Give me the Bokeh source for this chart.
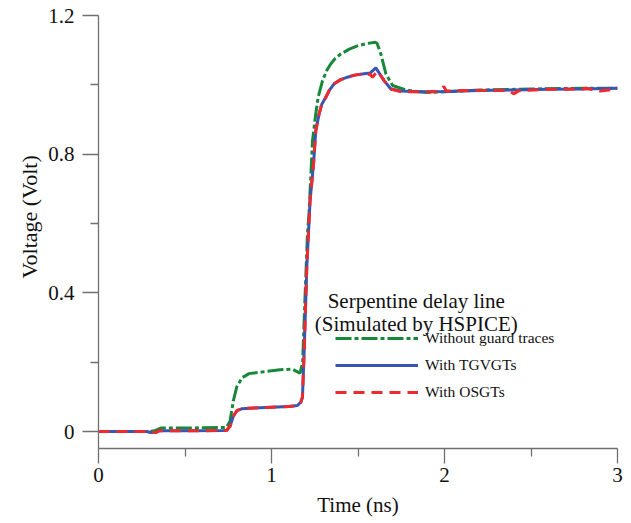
from bokeh.plotting import figure
from bokeh.models import FixedTicker, Legend, LegendItem, Label, Range1d, Title
from bokeh.embed import file_html
from bokeh.resources import INLINE

# ---- data ----
t_green = [0, 0.30, 0.33, 0.36, 0.50, 0.74, 0.76, 0.78, 0.80, 0.83, 0.87, 0.95, 1.05, 1.12,
           1.15, 1.165, 1.18, 1.193, 1.208, 1.217, 1.237, 1.256, 1.27, 1.295, 1.32, 1.343,
           1.37, 1.40, 1.45, 1.50, 1.55, 1.60, 1.61, 1.632, 1.661, 1.70, 1.786, 1.9, 2.0,
           2.2, 2.5, 2.8, 3.0]
v_green = [0, 0, 0.003, 0.010, 0.010, 0.012, 0.03, 0.09, 0.13, 0.155, 0.167, 0.172, 0.178, 0.180,
           0.172, 0.168, 0.20, 0.378, 0.571, 0.63, 0.839, 0.917, 0.965, 1.012, 1.042, 1.061,
           1.077, 1.089, 1.103, 1.113, 1.119, 1.123, 1.12, 1.089, 1.032, 0.998, 0.984, 0.978,
           0.980, 0.985, 0.988, 0.990, 0.990]

t_blue = [0, 0.28, 0.30, 0.33, 0.35, 0.50, 0.74, 0.76, 0.78, 0.80, 0.83, 0.90, 1.0, 1.1, 1.15,
          1.17, 1.179, 1.189, 1.204, 1.223, 1.243, 1.256, 1.275, 1.29, 1.314, 1.335, 1.362,
          1.40, 1.439, 1.48, 1.535, 1.57, 1.603, 1.651, 1.69, 1.747, 1.85, 2.0, 2.2, 2.4,
          2.6, 2.8, 3.0]
v_blue = [0, 0, -0.003, -0.003, 0.002, 0.002, 0.003, 0.015, 0.045, 0.060, 0.066, 0.068, 0.070,
          0.072, 0.075, 0.085, 0.099, 0.234, 0.474, 0.666, 0.772, 0.868, 0.916, 0.943, 0.964,
          0.985, 1.003, 1.015, 1.022, 1.028, 1.032, 1.034, 1.049, 1.012, 0.988, 0.982, 0.980,
          0.981, 0.984, 0.985, 0.987, 0.988, 0.990]

t_red = [0, 0.28, 0.30, 0.33, 0.35, 0.50, 0.74, 0.76, 0.78, 0.80, 0.83, 0.90, 1.0, 1.1, 1.15,
         1.17, 1.179, 1.189, 1.204, 1.223, 1.243, 1.256, 1.275, 1.29, 1.314, 1.335, 1.362,
         1.40, 1.439, 1.48, 1.535, 1.57, 1.584, 1.613, 1.651, 1.69, 1.75, 1.95, 1.975, 1.996,
         2.01, 2.2, 2.37, 2.40, 2.43, 2.6, 2.8, 2.82, 2.9, 2.95, 3.0]
v_red = [0, 0, -0.003, -0.003, 0.002, 0.002, 0.003, 0.015, 0.045, 0.060, 0.066, 0.068, 0.070,
         0.072, 0.075, 0.085, 0.099, 0.234, 0.474, 0.666, 0.772, 0.868, 0.916, 0.943, 0.964,
         0.985, 1.003, 1.015, 1.022, 1.028, 1.032, 1.030, 1.022, 1.040, 1.012, 0.988, 0.980,
         0.980, 0.984, 0.995, 0.982, 0.984, 0.984, 0.974, 0.983, 0.987, 0.988, 0.990, 0.982,
         0.985, 0.990]

x_ticks = [0, 1, 2, 3]
x_minor = [0.5, 1.5, 2.5]
y_ticks = [0, 0.4, 0.8, 1.2]
y_minor = [0.2, 0.6, 1.0]
y_labels = {0: "0", 0.4: "0.4", 0.8: "0.8", 1.2: "1.2"}
series_names = ["Without guard traces", "With TGVGTs", "With OSGTs"]
title_lines = ["Serpentine delay line", "(Simulated by HSPICE)"]
x_title = "Time (ns)"
y_title = "Voltage (Volt)"

FONT = "Liberation Serif"
AX = "#707070"

p = figure(frame_width=519, frame_height=433, output_backend="svg", toolbar_location=None,
           x_range=Range1d(0, 3), y_range=Range1d(-0.049, 1.2),
           min_border_left=98, min_border_right=14, min_border_top=15, min_border_bottom=75)
p.outline_line_color = None
p.xgrid.visible = False
p.ygrid.visible = False
p.background_fill_color = "white"
p.border_fill_color = "white"

for ax in (p.xaxis[0], p.yaxis[0]):
    ax.axis_line_color = AX
    ax.axis_line_width = 1.3
    ax.major_tick_line_color = AX
    ax.minor_tick_line_color = AX
    ax.major_tick_line_width = 1.3
    ax.minor_tick_line_width = 1.3
    ax.major_tick_in = 0
    ax.minor_tick_in = 0
    ax.minor_tick_out = 8
    ax.major_label_text_font = FONT
    ax.major_label_text_font_size = "21px"
    ax.major_label_text_color = "#111111"
    ax.axis_label_text_font = FONT
    ax.axis_label_text_font_size = "21px"
    ax.axis_label_text_font_style = "normal"
    ax.axis_label_text_color = "#111111"

p.xaxis[0].ticker = FixedTicker(ticks=x_ticks, minor_ticks=x_minor)
p.yaxis[0].ticker = FixedTicker(ticks=y_ticks, minor_ticks=y_minor)
p.yaxis[0].major_label_overrides = y_labels
p.xaxis[0].major_tick_out = 15
p.yaxis[0].major_tick_out = 16
p.xaxis[0].major_label_standoff = 4
p.yaxis[0].major_label_standoff = 8
p.xaxis[0].axis_label = x_title
p.xaxis[0].axis_label_standoff = 8

rg = p.line(t_green, v_green, line_color="#17883a", line_width=3, line_dash="16 3 4 3")
rb = p.line(t_blue, v_blue, line_color="#3a56b2", line_width=3)
rr = p.line(t_red, v_red, line_color="#ee2a2e", line_width=3, line_dash="11 7")

legend = Legend(items=[LegendItem(label=series_names[0], renderers=[rg]),
                       LegendItem(label=series_names[1], renderers=[rb]),
                       LegendItem(label=series_names[2], renderers=[rr])],
                location=(237, 46), padding=0, margin=0, spacing=7,
                glyph_width=83, glyph_height=20, label_height=20, label_standoff=7,
                label_text_font=FONT, label_text_font_size="15.5px",
                label_text_color="#111111",
                border_line_alpha=0, background_fill_alpha=0)
p.add_layout(legend, "center")

p.add_layout(Label(x=1.837, y=0.376, text=title_lines[0], text_align="center",
                   text_baseline="alphabetic", text_font=FONT, text_font_size="21px",
                   text_color="#111111"))
p.add_layout(Label(x=1.837, y=0.311, text=title_lines[1], text_align="center",
                   text_baseline="alphabetic", text_font=FONT, text_font_size="21px",
                   text_color="#111111"))
# y-axis title as a left-side title so it can be shifted up like in the reference
p.add_layout(Title(text=y_title, align="left", offset=170, standoff=8,
                   text_font=FONT, text_font_size="22px", text_font_style="normal",
                   text_color="#111111"), "left")

open("out.html", "w").write(file_html(p, INLINE))
